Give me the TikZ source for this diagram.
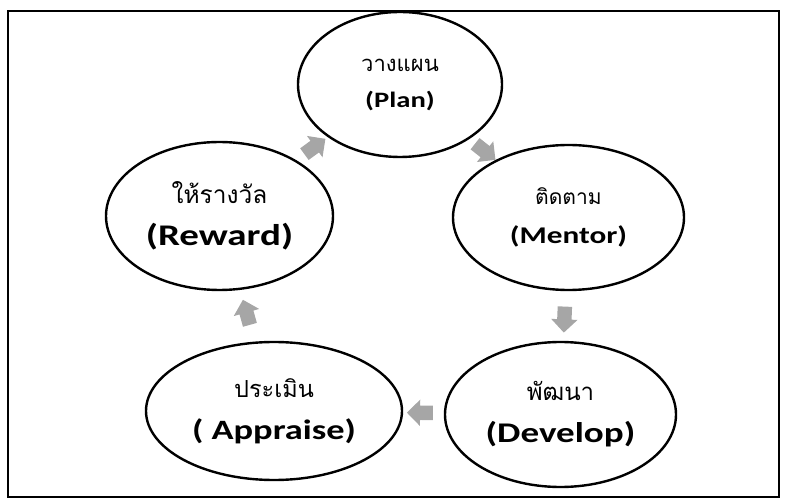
\documentclass[tikz,border=0pt]{standalone}
\usepackage{fontspec}
\usetikzlibrary{shapes.geometric,shapes.arrows}
\setmainfont{Carlito}[FakeStretch=1.3]
\newfontfamily\thaifont[Script=Thai]{Loma}
\colorlet{acol}{black!35}
\tikzstyle{stage}=[ellipse, draw, line width=2.4pt, align=center, inner sep=0pt, font=\fontsize{10}{42}\selectfont]
\tikzstyle{flow}=[single arrow, fill=acol, draw=none, sloped, allow upside down,
                  minimum height=26pt, single arrow head extend=6pt, inner sep=7pt]
\tikzstyle{frame}=[line width=1.8pt]
% thai line over a bold english line
\newcommand{\stagetext}[4]{{\thaifont\fontsize{#1}{#1}\selectfont #2}\\{\bfseries\fontsize{#3}{#3}\selectfont #4}}

\begin{document}
\begin{tikzpicture}[x=1pt, y=-1pt]
	\useasboundingbox (0,0) rectangle (787,502);
	\draw[frame] (8,11) rectangle (779,497);

	%%% Stages
	\node[stage, minimum width=204pt, minimum height=145pt, font=\fontsize{10}{36}\selectfont]
	                                                          (plan)     at (400.0, 84.5) {\stagetext{22}{วางแผน}{22}{(Plan)}};
	\node[stage, minimum width=227pt, minimum height=148pt]   (reward)   at (219.5,216.0) {\stagetext{24.5}{ให้รางวัล}{30}{(Reward)}};
	\node[stage, minimum width=231pt, minimum height=145pt, font=\fontsize{10}{39}\selectfont]
	                                                          (mentor)   at (568.5,217.5) {\stagetext{21}{ติดตาม}{24}{(Mentor)}};
	\node[stage, minimum width=256pt, minimum height=138pt]   (appraise) at (274.0,411.0) {\stagetext{23.5}{ประเมิน}{28}{( Appraise)}};
	\node[stage, minimum width=231pt, minimum height=145pt]   (develop)  at (560.5,414.5) {\stagetext{24}{พัฒนา}{28.5}{(Develop)}};

	%%% Cycle
	\path (plan)     -- node[flow] {} (mentor);
	\path (mentor)   -- node[flow] {} (develop);
	\path (develop)  -- node[flow] {} (appraise);
	\path (appraise) -- node[flow] {} (reward);
	\path (reward)   -- node[flow] {} (plan);
\end{tikzpicture}
\end{document}
